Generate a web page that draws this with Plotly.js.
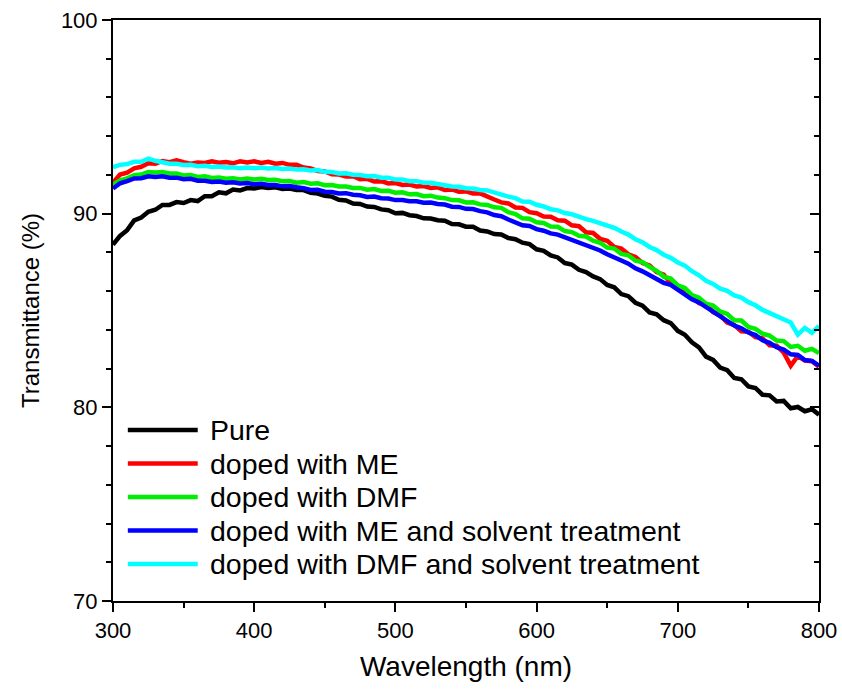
<!DOCTYPE html>
<html>
<head>
<meta charset="utf-8">
<script src="https://cdn.plot.ly/plotly-3.0.1.min.js"></script>
<style>html,body{margin:0;padding:0;background:#fff;}#chart{width:842px;height:694px;}</style>
</head>
<body>
<div id="chart"></div>
<script>
// Wavelength grid (nm), 300..800 in 5 nm steps
const wavelength = [];
for (let w = 300; w <= 800; w += 5) wavelength.push(w);

const seriesNames = ["Pure", "doped with ME", "doped with DMF", "doped with ME and solvent treatment", "doped with DMF and solvent treatment"];
const seriesColors = ["#000000", "#ff0000", "#00ee00", "#0000ff", "#00ffff"];

const pure = [88.4,88.85,89.15,89.65,89.8,90.1,90.2,90.45,90.45,90.6,90.55,90.7,90.65,90.9,90.9,91.1,91.05,91.25,91.2,91.32,91.3,91.38,91.33,91.36,91.28,91.3,91.22,91.22,91.08,91.04,90.92,90.88,90.72,90.68,90.52,90.5,90.37,90.35,90.22,90.18,90.02,90.04,89.92,89.88,89.76,89.75,89.66,89.63,89.46,89.45,89.33,89.32,89.13,89.08,88.95,88.93,88.74,88.68,88.5,88.43,88.16,88.08,87.84,87.74,87.45,87.37,87.1,86.98,86.76,86.62,86.32,86.2,85.85,85.74,85.4,85.25,84.9,84.8,84.5,84.35,83.95,83.75,83.36,83.1,82.62,82.45,82.05,81.92,81.52,81.45,81.08,81.0,80.65,80.62,80.3,80.33,79.95,80.02,79.8,79.9,79.62];
const dopedME = [91.6,92.02,92.12,92.34,92.42,92.6,92.58,92.72,92.66,92.76,92.66,92.58,92.64,92.62,92.7,92.63,92.67,92.6,92.7,92.64,92.7,92.62,92.68,92.58,92.62,92.52,92.52,92.38,92.34,92.2,92.18,92.04,92.02,91.92,91.93,91.78,91.8,91.66,91.68,91.56,91.58,91.48,91.5,91.4,91.43,91.33,91.36,91.22,91.25,91.13,91.15,91.04,91.05,90.86,90.73,90.58,90.53,90.32,90.3,90.08,90.02,89.85,89.84,89.66,89.64,89.4,89.35,89.04,89.0,88.7,88.6,88.28,88.2,87.9,87.76,87.45,87.33,86.98,86.85,86.4,86.25,85.88,85.75,85.38,85.32,84.92,84.75,84.38,84.25,83.92,83.9,83.62,83.56,83.2,83.18,82.82,82.15,82.65,82.42,82.38,82.1];
const dopedDMF = [91.5,91.72,91.82,91.98,92.02,92.15,92.12,92.15,92.08,92.08,91.97,92.0,91.9,91.93,91.84,91.87,91.8,91.83,91.76,91.82,91.77,91.8,91.74,91.75,91.68,91.69,91.6,91.63,91.55,91.57,91.47,91.48,91.4,91.4,91.33,91.33,91.24,91.27,91.17,91.18,91.08,91.1,91.0,91.01,90.9,90.93,90.83,90.8,90.7,90.69,90.58,90.59,90.48,90.45,90.33,90.3,90.08,89.98,89.76,89.74,89.56,89.52,89.34,89.32,89.1,89.05,88.86,88.82,88.6,88.5,88.25,88.2,87.92,87.85,87.57,87.5,87.25,87.05,86.75,86.65,86.3,86.16,85.8,85.66,85.35,85.25,84.95,84.82,84.5,84.48,84.15,84.05,83.8,83.7,83.45,83.42,83.12,83.18,82.92,83.02,82.8];
const dopedMEsolvent = [91.3,91.57,91.68,91.82,91.83,91.93,91.9,91.93,91.86,91.86,91.78,91.8,91.7,91.7,91.64,91.66,91.6,91.62,91.56,91.58,91.52,91.54,91.48,91.48,91.41,91.43,91.36,91.32,91.22,91.23,91.13,91.12,91.04,91.06,90.98,90.95,90.86,90.88,90.8,90.78,90.7,90.71,90.64,90.64,90.56,90.57,90.5,90.47,90.36,90.35,90.25,90.24,90.13,90.07,89.93,89.87,89.7,89.57,89.4,89.36,89.2,89.12,88.98,88.92,88.78,88.67,88.48,88.4,88.22,88.1,87.9,87.77,87.58,87.42,87.18,87.02,86.82,86.66,86.43,86.32,86.08,85.87,85.58,85.42,85.18,84.97,84.68,84.48,84.22,84.08,83.86,83.73,83.46,83.33,83.1,82.98,82.74,82.7,82.44,82.4,82.15];
const dopedDMFsolvent = [92.4,92.52,92.56,92.68,92.68,92.84,92.73,92.67,92.58,92.58,92.51,92.52,92.45,92.47,92.41,92.43,92.38,92.4,92.34,92.38,92.34,92.38,92.33,92.36,92.31,92.33,92.28,92.29,92.23,92.25,92.16,92.15,92.08,92.09,92.01,92.0,91.93,91.94,91.86,91.85,91.76,91.77,91.68,91.68,91.6,91.6,91.53,91.5,91.4,91.39,91.31,91.3,91.22,91.2,91.08,91.02,90.88,90.8,90.63,90.62,90.46,90.37,90.23,90.17,90.03,89.97,89.83,89.72,89.63,89.52,89.38,89.27,89.08,88.92,88.68,88.52,88.28,88.12,87.88,87.72,87.48,87.32,87.03,86.82,86.53,86.37,86.13,86.02,85.78,85.67,85.43,85.27,85.03,84.87,84.68,84.57,84.38,83.75,84.1,83.85,84.2];

const seriesValues = [pure, dopedME, dopedDMF, dopedMEsolvent, dopedDMFsolvent];

const traces = seriesValues.map((vals, i) => ({
  type: 'scatter', mode: 'lines', x: wavelength, y: vals, name: seriesNames[i],
  line: {color: seriesColors[i], width: 4.5}, showlegend: false
}));
// invisible helper trace so the right-side inward tick axis is drawn
traces.push({type:'scatter', mode:'lines', x: wavelength, y: pure, yaxis:'y2', showlegend:false, hoverinfo:'skip', line:{width:0, color:'rgba(0,0,0,0)'}});

const FF = 'Liberation Sans, Arial, sans-serif';
const tickFont = {family: FF, size: 22, color: '#000'};

// Legend drawn in paper coordinates (layout only)
const legTop = 0.2943, legStep = 0.0577;
const legendShapes = seriesNames.map((n, i) => ({
  type: 'line', xref: 'paper', yref: 'paper', x0: 0.021, x1: 0.120,
  y0: legTop - i * legStep, y1: legTop - i * legStep,
  line: {color: seriesColors[i], width: 4.5}
}));
const legendTexts = seriesNames.map((n, i) => ({
  xref: 'paper', yref: 'paper', x: 0.134, y: legTop - i * legStep,
  xanchor: 'left', yanchor: 'middle', text: n, showarrow: false,
  font: {family: FF, size: 28.5, color: '#000'}
}));

const layout = {
  width: 842, height: 694,
  margin: {l: 113, r: 23, t: 20, b: 93},
  paper_bgcolor: '#fff', plot_bgcolor: '#fff',
  showlegend: false,
  shapes: legendShapes,
  annotations: legendTexts,
  xaxis: {range: [300, 800], dtick: 100, tick0: 300, showgrid: false, zeroline: false,
          showline: true, linecolor: '#000', linewidth: 2, mirror: true,
          ticks: 'outside', ticklen: 9, tickwidth: 2, tickcolor: '#000',
          minor: {dtick: 50, ticks: 'outside', ticklen: 5, tickwidth: 2, tickcolor: '#000', showgrid: false},
          tickfont: tickFont,
          title: {text: 'Wavelength (nm)', font: {family: FF, size: 28, color: '#000'}, standoff: 14}},
  yaxis: {range: [70, 100], dtick: 10, tick0: 70, showgrid: false, zeroline: false,
          showline: true, linecolor: '#000', linewidth: 2, mirror: true,
          ticks: 'outside', ticklen: 9, tickwidth: 2, tickcolor: '#000',
          minor: {dtick: 2, ticks: 'outside', ticklen: 5, tickwidth: 2, tickcolor: '#000', showgrid: false},
          tickfont: tickFont,
          title: {text: 'Transmittance (%)', font: {family: FF, size: 24, color: '#000'}, standoff: 14}},
  yaxis2: {range: [70, 100], overlaying: 'y', side: 'right', dtick: 10, tick0: 70, showgrid: false, zeroline: false,
           showline: false, ticks: 'inside', ticklen: 9, tickwidth: 2, tickcolor: '#000', showticklabels: false,
           minor: {dtick: 2, ticks: 'inside', ticklen: 5, tickwidth: 2, tickcolor: '#000', showgrid: false}}
};

Plotly.newPlot('chart', traces, layout, {displayModeBar: false, staticPlot: true});
</script>
</body>
</html>
